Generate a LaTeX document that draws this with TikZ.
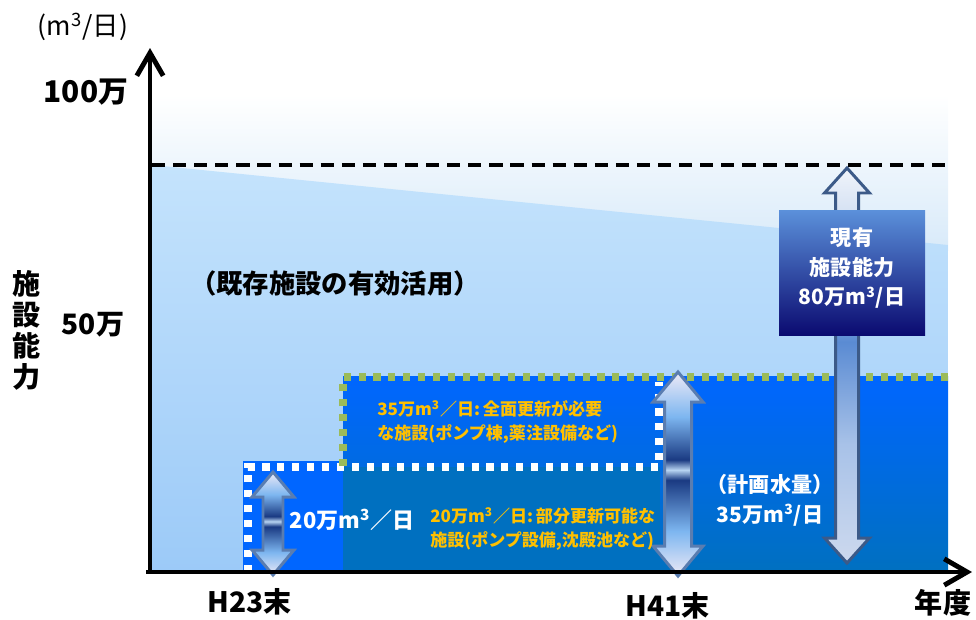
\documentclass[tikz,border=0pt]{standalone}
\usepackage{fontspec}
\setmainfont{Noto Sans CJK JP}
\usetikzlibrary{arrows.meta}
\definecolor{bgmid}{HTML}{D8EAF9}
\definecolor{polytop}{HTML}{C4E3FC}
\definecolor{polybot}{HTML}{9CCAF8}
\definecolor{blueA}{HTML}{0066FF}
\definecolor{blueB}{HTML}{0070C0}
\definecolor{dotgreen}{HTML}{9BBB59}
\definecolor{orangeT}{HTML}{FFC000}
\definecolor{boxtop}{HTML}{5B90DA}
\definecolor{boxbot}{HTML}{0A0A70}
\definecolor{aw}{HTML}{EEEAF6}
\definecolor{al}{HTML}{7DB6F0}
\definecolor{ad}{HTML}{1A3A82}
\definecolor{ag}{HTML}{B8D4F2}
\definecolor{aedge}{HTML}{5A7DB0}
\definecolor{aedgeB}{HTML}{3C5A88}
\definecolor{lw}{HTML}{F0F4FA}
\definecolor{lm}{HTML}{5A8BD3}
\definecolor{lb}{HTML}{CDD9EE}
\definecolor{lc}{HTML}{A8C2E8}
\pgfdeclareverticalshading{splitarrow}{100bp}{color(0bp)=(aw); color(25bp)=(aw); color(36bp)=(al); color(48.5bp)=(ad); color(51bp)=(ag); color(53.5bp)=(ad); color(64bp)=(al); color(75bp)=(aw); color(100bp)=(aw)}
\pgfdeclareverticalshading{longarrow}{100bp}{color(0bp)=(lb); color(25bp)=(lb); color(40bp)=(lc); color(53bp)=(lm); color(60bp)=(lc); color(75bp)=(lw); color(100bp)=(lw)}
\newcommand\blockarr[7]{%
  \shadedraw[#7] (#1,#2) -- ({#1+#5/2},{#2+#6}) -- ({#1+#4/2},{#2+#6})
    -- ({#1+#4/2},{#3-#6}) -- ({#1+#5/2},{#3-#6}) -- (#1,#3)
    -- ({#1-#5/2},{#3-#6}) -- ({#1-#4/2},{#3-#6}) -- ({#1-#4/2},{#2+#6})
    -- ({#1-#5/2},{#2+#6}) -- cycle;}
\begin{document}
\begin{tikzpicture}[x=0.02cm,y=-0.02cm,
  t/.style={inner sep=0pt, font=\bfseries\fontsize{16}{18}\selectfont},
  orangetxt/.style={inner sep=0pt, text=orangeT, align=left, font=\bfseries\fontsize{9.7}{14}\selectfont},
  whitetxt/.style={inner sep=0pt, text=white, align=center, font=\bfseries\fontsize{12}{17}\selectfont},
  dots/.style={line width=4pt, dash pattern=on 4pt off 4.5pt},
  axis/.style={line width=2.8pt, -{Straight Barb[length=13pt,width=15pt]}},
  abox/.style={draw=none, top color=boxtop, bottom color=boxbot, minimum width=2.92cm, minimum height=2.5cm, inner sep=0pt}
]
\useasboundingbox (0,0) rectangle (976,619);
% background
\shade[top color=white, bottom color=bgmid] (152,95) rectangle (948,250);
\shade[top color=polytop, bottom color=polybot] (152,165) -- (948,245) -- (948,572) -- (152,572) -- cycle;
% blue regions
\shade[top color=blueA, bottom color=blueB] (343,376) rectangle (948,572);
\fill[blueB] (343,467) rectangle (660,572);
\fill[blueA] (243,461) rectangle (343,572);
% dashed line
\draw[line width=2.2pt, dash pattern=on 7.5pt off 4.5pt] (152,165) -- (948,165);
% dotted borders
\draw[dots, white] (248,572) -- (248,467) -- (659,467) -- (659,382);
\draw[dots, dotgreen] (343,466) -- (343,377) -- (948,377);
% block arrows
\blockarr{847}{168}{563}{23}{45}{25}{shading=longarrow, draw=aedgeB, line width=1.7pt}
\blockarr{678}{372}{576}{27}{50}{30}{shading=splitarrow, draw=aedge, line width=1.7pt}
\blockarr{273}{472}{575}{20}{42}{25}{shading=splitarrow, draw=aedge, line width=1.7pt}
% box
\node[abox] (genyu) at (852,273) {};
\node[whitetxt] (genyutxt) at (852,268) {現有\\施設能力\\80万m\textsuperscript{3}/日};
% texts
\node[inner sep=0pt, font=\fontsize{15}{18}\selectfont] (unit) at (83,27) {(m\textsuperscript{3}/日)};
\node[t, font=\bfseries\fontsize{17}{20}\selectfont] (y100) at (86,92) {100万};
\node[t] (y50) at (93,325) {50万};
\node[t, align=center, font=\bfseries\fontsize{16}{17.6}\selectfont] (ylab) at (27,330) {施\\設\\能\\力};
\node[t, font=\bfseries\fontsize{15}{18}\selectfont] (katsu) at (335,283) {（既存施設の有効活用）};
\node[orangetxt, anchor=west] (o35) at (377,422) {35万m\textsuperscript{3}／日:\,全面更新が必要\\な施設(ポンプ棟,薬注設備など)};
\node[orangetxt, anchor=west] (o20) at (430,529) {20万m\textsuperscript{3}／日:\,部分更新可能な\\施設(ポンプ設備,沈殿池など)};
\node[whitetxt, font=\bfseries\fontsize{12.5}{17}\selectfont] (w20) at (352,520) {20万m\textsuperscript{3}／日};
\node[whitetxt] (keikaku) at (770,500) {（計画水量）\\35万m\textsuperscript{3}/日};
\node[t] (h23) at (250,602) {H23末};
\node[t] (h41) at (668,606) {H41末};
\node[t] (nendo) at (943,603) {年度};
% axes
\coordinate (O) at (150,572);
\coordinate (O2) at (146,572);
\coordinate (ytop) at (150,48);
\coordinate (xend) at (972,572);
\draw[axis] (O) -- (ytop);
\draw[axis] (O2) -- (xend);
\end{tikzpicture}
\end{document}
